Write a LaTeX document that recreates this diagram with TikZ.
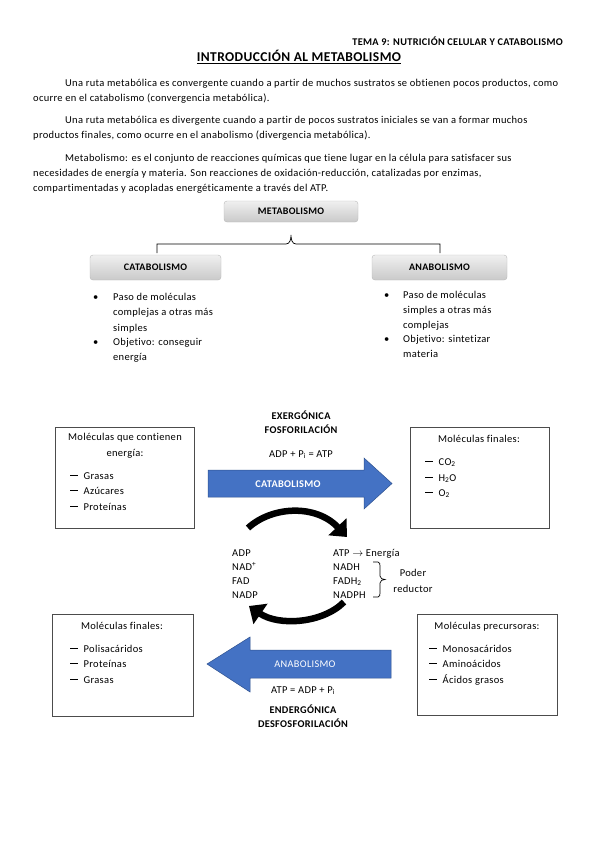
\documentclass[tikz,border=0pt]{standalone}
\usepackage{fontspec}
\setmainfont[LetterSpace=3,Ligatures=NoCommon]{Carlito}
\usetikzlibrary{arrows.meta}
\definecolor{blueA}{HTML}{4472C4}
\definecolor{blueB}{HTML}{2F528F}
\newcommand{\mydash}{\rule[2.9pt]{7.5pt}{0.75pt}\hspace{6pt}}
\begin{document}
\begin{tikzpicture}[x=1pt,y=-1pt,
  txt/.style={inner sep=0pt,anchor=base west,font=\fontsize{10.5}{12}\selectfont},
  ctxt/.style={inner sep=0pt,anchor=base,font=\fontsize{10.5}{12}\selectfont},
  btxt/.style={inner sep=0pt,anchor=base,font=\fontsize{10.3}{12}\selectfont\bfseries},
  graybox/.style={draw=gray!55,rounded corners=3pt,top color=gray!12,bottom color=gray!42,
    font=\fontsize{10}{12}\selectfont\bfseries,inner sep=0pt},
  whitebox/.style={draw=black!70,line width=0.6pt,fill=white},
  bigarrow/.style={fill=blueA,draw=blueB,line width=0.5pt},
  curved/.style={line width=6.5pt,-{Triangle[length=14pt,width=24pt]}},
  thin/.style={line width=0.7pt}
]
\useasboundingbox[fill=white] (0,0) rectangle (599,848);

% header
\node[inner sep=0pt,anchor=base east,font=\fontsize{10.3}{12}\selectfont\bfseries] (tema) at (563,46) {TEMA 9: NUTRICIÓN CELULAR Y CATABOLISMO};
\node[inner sep=0pt,anchor=base,font=\fontsize{13.5}{15}\selectfont\bfseries] (title) at (299,62) {\underline{INTRODUCCIÓN AL METABOLISMO}};

% paragraphs
\node[txt] (p1a) at (65,87) {Una ruta metabólica es convergente cuando a partir de muchos sustratos se obtienen pocos productos, como};
\node[txt] (p1b) at (33,102) {ocurre en el catabolismo (convergencia metabólica).};
\node[txt] (p2a) at (65,124) {Una ruta metabólica es divergente cuando a partir de pocos sustratos iniciales se van a formar muchos};
\node[txt] (p2b) at (33,139) {productos finales, como ocurre en el anabolismo (divergencia metabólica).};
\node[txt] (p3a) at (65,161) {Metabolismo: es el conjunto de reacciones químicas que tiene lugar en la célula para satisfacer sus};
\node[txt] (p3b) at (33,176) {necesidades de energía y materia. Son reacciones de oxidación-reducción, catalizadas por enzimas,};
\node[txt] (p3c) at (33,191) {compartimentadas y acopladas energéticamente a través del ATP.};

% tree
\node[graybox,minimum width=134pt,minimum height=21pt] (meta) at (291,211.5) {METABOLISMO};
\node[graybox,minimum width=131pt,minimum height=25pt] (cata) at (155.5,267.5) {CATABOLISMO};
\node[graybox,minimum width=135pt,minimum height=25pt] (ana) at (439.5,267.5) {ANABOLISMO};
\coordinate (bl) at (157,253);
\coordinate (br) at (440,253);
\coordinate (bt) at (291,235);
\draw[thin] (bl) -- (157,244) -- (286,244) to[out=0,in=-90] (bt) to[out=-90,in=180] (296,244) -- (440,244) -- (br);

% bullets left
\node[txt] (bu1) at (93,300) {\textbullet};
\node[txt] (l1) at (113,300) {Paso de moléculas};
\node[txt] (l2) at (113,315.5) {complejas a otras más};
\node[txt] (l3) at (113,331) {simples};
\node[txt] (bu2) at (93,345) {\textbullet};
\node[txt] (l4) at (113,345) {Objetivo: conseguir};
\node[txt] (l5) at (113,360) {energía};
% bullets right
\node[txt] (bu3) at (384,298) {\textbullet};
\node[txt] (r1) at (403,298) {Paso de moléculas};
\node[txt] (r2) at (403,313) {simples a otras más};
\node[txt] (r3) at (403,328) {complejas};
\node[txt] (bu4) at (384,342) {\textbullet};
\node[txt] (r4) at (403,342) {Objetivo: sintetizar};
\node[txt] (r5) at (403,357) {materia};

% catabolism
\node[btxt] (exer) at (301,419) {EXERGÓNICA};
\node[btxt] (fosf) at (301,433) {FOSFORILACIÓN};
\node[ctxt] (eq1) at (301,457) {ADP + P\textsubscript{i} = ATP};
\draw[bigarrow] (208,470) -- (364,470) -- (364,458) -- (392,483.5) -- (364,509) -- (364,497) -- (208,497) -- cycle;
\node[inner sep=0pt,anchor=base,font=\fontsize{10.3}{12}\selectfont\bfseries,text=white] (catl) at (288,487) {CATABOLISMO};

\draw[whitebox] (55,427) rectangle (194,528);
\node[ctxt] (m1a) at (125,440) {Moléculas que contienen};
\node[ctxt] (m1b) at (125,456) {energía:};
\node[txt] (g1) at (70,479) {\mydash Grasas};
\node[txt] (g2) at (70,494) {\mydash Azúcares};
\node[txt] (g3) at (70,510) {\mydash Proteínas};

\draw[whitebox] (410,427) rectangle (549,528);
\node[ctxt] (m2) at (479,442) {Moléculas finales:};
\node[txt] (c1) at (425,465) {\mydash CO\textsubscript{2}};
\node[txt] (c2) at (425,481) {\mydash H\textsubscript{2}O};
\node[txt] (c3) at (425,496) {\mydash O\textsubscript{2}};

% curved arrows
\coordinate (ta) at (248,528);
\coordinate (ha) at (347,537);
\draw[curved] (ta) .. controls (272,506) and (316,504) .. (ha);
\coordinate (tb) at (344,602);
\coordinate (hb) at (249,606);
\draw[curved] (tb) .. controls (322,624) and (278,626) .. (hb);

% middle
\node[txt] (x1) at (232,556) {ADP};
\node[txt] (x2) at (232,570) {NAD\textsuperscript{+}};
\node[txt] (x3) at (232,584) {FAD};
\node[txt] (x4) at (232,598) {NADP};
\node[txt] (y1) at (333,556) {ATP $\rightarrow$ Energía};
\node[txt] (y2) at (333,570) {NADH};
\node[txt] (y3) at (333,584) {FADH\textsubscript{2}};
\node[txt] (y4) at (333,598) {NADPH};
\coordinate (brt) at (373,562);
\coordinate (brb) at (373,597);
\draw[thin] (brt) -- (378,562) to[out=0,in=90] (380,566) -- (380,576) to[out=-90,in=180] (385,579.5) to[out=180,in=90] (380,583) -- (380,593) to[out=-90,in=0] (378,597) -- (brb);
\node[ctxt] (pod1) at (413,576) {Poder};
\node[ctxt] (pod2) at (413,592) {reductor};

% anabolism
\draw[bigarrow] (391,650) -- (250,650) -- (250,637) -- (207,664) -- (250,692) -- (250,678) -- (391,678) -- cycle;
\node[inner sep=0pt,anchor=base,font=\fontsize{10.3}{12}\selectfont,text=white] (anal) at (305,667) {ANABOLISMO};
\node[ctxt] (eq2) at (303,693) {ATP = ADP + P\textsubscript{i}};
\node[btxt] (ender) at (303,713) {ENDERGÓNICA};
\node[btxt] (desf) at (303,727) {DESFOSFORILACIÓN};

\draw[whitebox] (52,614) rectangle (193,716);
\node[ctxt] (m3) at (122,629) {Moléculas finales:};
\node[txt] (f1) at (70,652) {\mydash Polisacáridos};
\node[txt] (f2) at (70,667) {\mydash Proteínas};
\node[txt] (f3) at (70,683) {\mydash Grasas};

\draw[whitebox] (417,614) rectangle (557,715);
\node[ctxt] (m4) at (487,629) {Moléculas precursoras:};
\node[txt] (k1) at (429,652) {\mydash Monosacáridos};
\node[txt] (k2) at (429,667) {\mydash Aminoácidos};
\node[txt] (k3) at (429,683) {\mydash Ácidos grasos};
\end{tikzpicture}
\end{document}
